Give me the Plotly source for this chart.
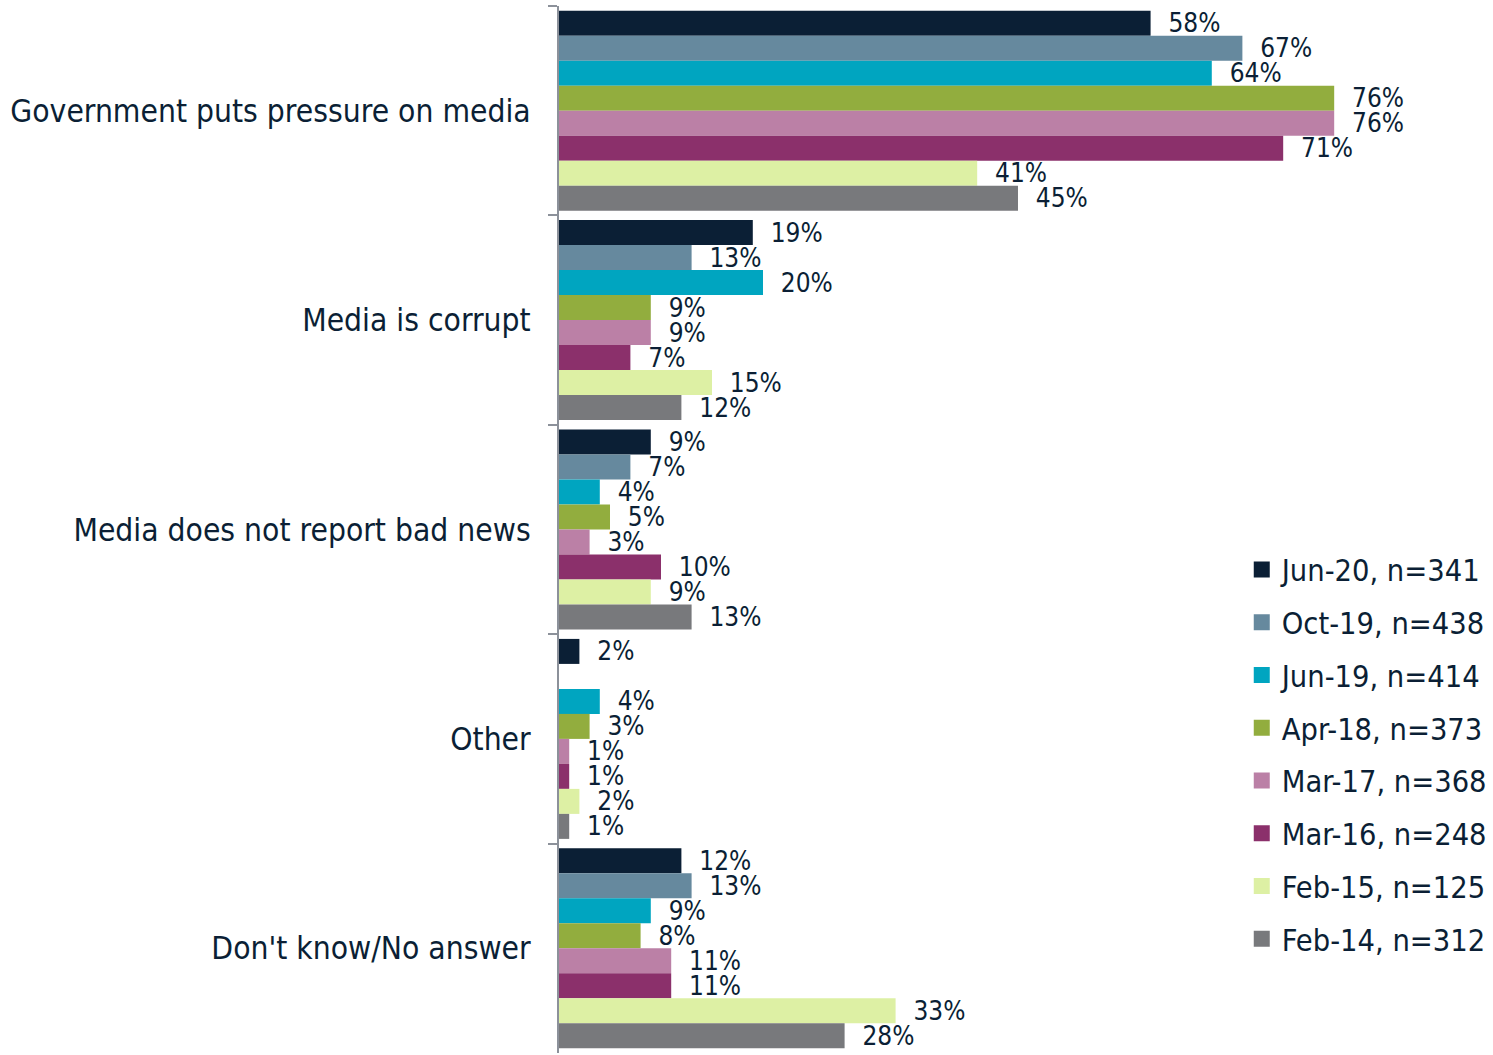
import plotly.graph_objects as go

categories = [
    "Government puts pressure on media",
    "Media is corrupt",
    "Media does not report bad news",
    "Other",
    "Don't know/No answer",
]

series_names = [
    "Jun-20, n=341",
    "Oct-19, n=438",
    "Jun-19, n=414",
    "Apr-18, n=373",
    "Mar-17, n=368",
    "Mar-16, n=248",
    "Feb-15, n=125",
    "Feb-14, n=312",
]

jun20 = [58, 19, 9, 2, 12]
oct19 = [67, 13, 7, None, 13]
jun19 = [64, 20, 4, 4, 9]
apr18 = [76, 9, 5, 3, 8]
mar17 = [76, 9, 3, 1, 11]
mar16 = [71, 7, 10, 1, 11]
feb15 = [41, 15, 9, 2, 33]
feb14 = [45, 12, 13, 1, 28]

series_values = [jun20, oct19, jun19, apr18, mar17, mar16, feb15, feb14]

colors = ["#0b1f35", "#66899e", "#00a5c0", "#92ad3e",
          "#bb80a6", "#8b306b", "#ddf0a4", "#78797c"]

FONT = "DejaVu Sans Condensed"
TEXT_COLOR = "#0b1f35"
AXIS_COLOR = "#8c919a"

fig = go.Figure()
for name, vals, col in zip(series_names, series_values, colors):
    fig.add_trace(go.Bar(
        y=categories,
        x=vals,
        name=name,
        orientation="h",
        marker=dict(color=col, line=dict(width=0)),
        text=[None if v is None else f"\u00a0\u00a0{v}%" for v in vals],
        textposition="outside",
        textfont=dict(family=FONT, size=26, color=TEXT_COLOR),
        constraintext="none",
        cliponaxis=False,
        legendgroup=name,
        showlegend=False,
    ))

# legend entries with larger square swatches
for name, col in zip(series_names, colors):
    fig.add_trace(go.Scatter(
        x=[None],
        y=[None],
        mode="markers",
        name=name,
        marker=dict(symbol="square", size=16, color=col),
        legendgroup=name,
        showlegend=True,
    ))

fig.update_layout(
    width=1493,
    height=1055,
    margin=dict(l=559, r=0, t=6, b=2),
    paper_bgcolor="white",
    plot_bgcolor="white",
    barmode="group",
    bargap=0.045,
    bargroupgap=0,
    font=dict(family=FONT, size=30, color=TEXT_COLOR),
    xaxis=dict(
        range=[0, 91.57],
        visible=False,
        showgrid=False,
        zeroline=False,
    ),
    yaxis=dict(
        autorange="reversed",
        showline=True,
        linecolor=AXIS_COLOR,
        linewidth=2,
        ticks="outside",
        tickson="boundaries",
        ticklen=9,
        tickwidth=2,
        tickcolor=AXIS_COLOR,
        ticklabelstandoff=20,
        showgrid=False,
        tickfont=dict(family=FONT, size=31.5, color=TEXT_COLOR),
    ),
    legend=dict(
        x=0.731,
        y=0.487,
        xanchor="left",
        yanchor="top",
        traceorder="grouped",
        tracegroupgap=10.1,
        itemsizing="trace",
        font=dict(family=FONT, size=30.5, color=TEXT_COLOR),
        bgcolor="rgba(0,0,0,0)",
    ),
    showlegend=True,
)

fig.write_html("out.html")
